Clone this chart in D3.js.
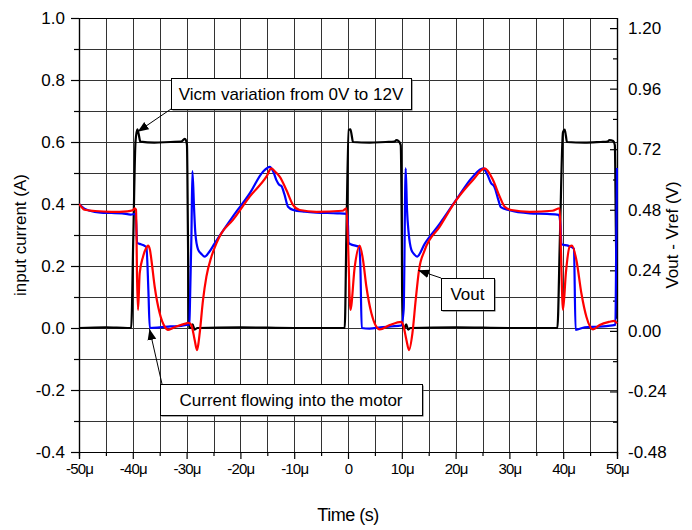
<!DOCTYPE html>
<html><head><meta charset="utf-8">
<script src="https://cdn.jsdelivr.net/npm/d3@7/dist/d3.min.js"></script>
<style>
body{margin:0;background:#fff;}
svg{display:block;font-family:"Liberation Sans",Arial,sans-serif;}
</style>
</head><body>
<svg id="chart" width="692" height="530"></svg>
<script>
// ---- tick labels ----
const timeTicks = [-50,-40,-30,-20,-10,0,10,20,30,40,50];
const timeTickLabels = ["-50μ","-40μ","-30μ","-20μ","-10μ","0","10μ","20μ","30μ","40μ","50μ"];
const leftTicks = [-0.4,-0.2,0.0,0.2,0.4,0.6,0.8,1.0];
const leftTickLabels = ["-0.4","-0.2","0.0","0.2","0.4","0.6","0.8","1.0"];
const rightTicks = [-0.48,-0.24,0.0,0.24,0.48,0.72,0.96,1.20];
const rightTickLabels = ["-0.48","-0.24","0.00","0.24","0.48","0.72","0.96","1.20"];

// ---- series: Vicm (black, left axis) ----
const vicmTime = [-50,-45,-41,-40.3,-39.9,-39.5,-39.15,-38.9,-38.6,-36,-33,-31,-30.35,-30.1,-29.93,-29.75,-29.55,-29.2,-28.9,-28.5,-28,-20,-10,-0.61,-0.3,0.13,0.45,0.7,0.93,4,7,8.6,9.0,9.4,9.8,10.0,10.11,10.5,10.8,11.2,11.6,20,30,38.92,39.4,39.96,40.28,40.5,40.7,44,47,48.2,48.6,49.3,49.6,49.8,50];
const vicmValue = [0,0.002,0,0.0,0.3,0.6,0.641,0.625,0.601,0.598,0.6,0.601,0.61,0.605,0.59,0.3,0.0,0.0,0.012,-0.005,0.0,0.002,0.0,0.0,0.3,0.639,0.641,0.62,0.6,0.598,0.6,0.601,0.606,0.603,0.59,0.3,0.0,0.0,0.012,-0.005,0.0,0.002,0.0,0.0,0.3,0.632,0.64,0.62,0.6,0.598,0.6,0.601,0.606,0.603,0.59,0.3,0.03];

// ---- series: current flowing into the motor (blue, left axis) ----
const currentTime = [-50,-49,-48,-46,-44,-42,-40.4,-39.46,-39.2,-38.5,-37.8,-37.47,-37.1,-36.85,-35,-33,-31,-30,-29.5,-29.4,-29.1,-28.92,-28.6,-28.37,-27.88,-27.2,-26.64,-25.8,-24.78,-21.38,-18.27,-15.8,-14.55,-13.9,-13.31,-12.8,-12.38,-11.8,-11.15,-10.22,-8,-5.87,-2,-0.2,0.0,0.1,0.5,1.5,2.05,2.3,2.55,4,6,8,9.9,10.35,10.72,10.97,11.28,11.78,12.3,12.83,14.3,17,20.1,23.2,25.1,25.9,26.6,27.2,28.0,28.4,30.0,33.8,37,39.2,39.5,39.66,41,42.0,42.3,44,46,48,49.7,49.85,50];
const currentValue = [0.40,0.385,0.378,0.372,0.371,0.37,0.366,0.368,0.275,0.27,0.265,0.26,0.12,0.0,0.002,0.005,0.007,0.01,0.01,0.06,0.3,0.506,0.381,0.305,0.254,0.238,0.23,0.245,0.273,0.36,0.434,0.504,0.52,0.505,0.477,0.462,0.458,0.43,0.391,0.381,0.375,0.372,0.37,0.368,0.33,0.275,0.27,0.265,0.262,0.2,0.0,-0.002,0.002,0.005,0.008,0.06,0.515,0.381,0.305,0.252,0.238,0.23,0.273,0.335,0.413,0.488,0.515,0.495,0.467,0.456,0.41,0.39,0.38,0.37,0.368,0.365,0.33,0.27,0.265,0.256,-0.006,0.002,0.004,0.006,0.01,0.25,0.516];

// ---- series: Vout - Vref (red, right axis) ----
const voutTime = [-50,-49.5,-49,-47,-44,-41,-40.0,-39.65,-39.4,-39.2,-39.03,-38.72,-38.1,-37.47,-37.17,-36.8,-36.54,-35.93,-35.0,-34.07,-33.46,-32.7,-31.9,-30.04,-29.6,-29.11,-28.5,-28.07,-27.8,-27.57,-26.95,-26.32,-25.39,-24.46,-23.53,-21.38,-18.27,-15.17,-14.24,-13.5,-12.7,-11.45,-10.22,-8.98,-5.87,-1,-0.3,0.0,0.45,1.25,2.17,2.79,3.42,4.35,5.89,7.75,9.93,10.3,10.86,11.34,11.97,12.58,13.2,14.26,17.05,20.15,23.23,25.41,26.95,28.2,29.13,30.37,33.77,38,39.35,39.6,39.96,40.5,41.2,41.64,42.45,43.38,44.31,45.54,46.78,48.6,49.5,50];
const voutValue = [0.503,0.49,0.48,0.475,0.472,0.474,0.478,0.486,0.48,0.2,0.083,0.228,0.294,0.33,0.338,0.32,0.281,0.175,0.07,0.017,0.004,0.01,0.017,0.03,0.032,0.023,-0.036,-0.076,-0.05,-0.01,0.122,0.215,0.294,0.347,0.387,0.44,0.532,0.611,0.644,0.63,0.611,0.558,0.499,0.479,0.472,0.476,0.486,0.35,0.083,0.254,0.338,0.281,0.175,0.07,0.006,0.023,0.036,0.02,-0.036,-0.076,-0.01,0.122,0.241,0.32,0.413,0.519,0.598,0.644,0.598,0.532,0.492,0.479,0.472,0.476,0.486,0.3,0.083,0.23,0.334,0.338,0.281,0.149,0.056,0.006,0.023,0.036,0.04,0.03];

// ---- layout ----
const W = 692, H = 530;
const plot = {left: 79, right: 617, top: 18, bottom: 452};
const svg = d3.select("#chart");

const x = d3.scaleLinear().domain([-50, 50]).range([plot.left, plot.right]);
const yL = d3.scaleLinear().domain([-0.4, 1.0]).range([plot.bottom, plot.top]);
const yR = d3.scaleLinear().domain([-0.48, 1.24]).range([plot.bottom, plot.top]);

// grid
const gridColor = "#333";
const g = svg.append("g");
g.selectAll("line.vg").data(d3.range(-45, 50, 5)).enter().append("line")
  .attr("x1", d => Math.round(x(d)) + 0.5).attr("x2", d => Math.round(x(d)) + 0.5)
  .attr("y1", plot.top).attr("y2", plot.bottom)
  .attr("stroke", gridColor).attr("stroke-width", 1);
g.selectAll("line.hg").data(d3.range(-3, 11, 1).map(d => d / 10)).enter().append("line")
  .attr("y1", d => Math.round(yL(d)) + 0.5).attr("y2", d => Math.round(yL(d)) + 0.5)
  .attr("x1", plot.left).attr("x2", plot.right)
  .attr("stroke", gridColor).attr("stroke-width", 1);

// axes
const axL = d3.axisLeft(yL).tickValues(leftTicks).tickSize(8)
  .tickFormat((d, i) => leftTickLabels[i]);
const axLm = d3.axisLeft(yL).tickValues(d3.range(-3, 10, 2).map(d => d / 10)).tickSize(5).tickFormat("");
const axR = d3.axisRight(yR).tickValues(rightTicks).tickSize(-7)
  .tickFormat((d, i) => rightTickLabels[i]);
const axRm = d3.axisRight(yR).tickValues([-0.36,-0.12,0.12,0.36,0.60,0.84,1.08]).tickSize(-4).tickFormat("");
const axB = d3.axisBottom(x).tickValues(timeTicks).tickSize(7)
  .tickFormat((d, i) => timeTickLabels[i]);
const axBm = d3.axisBottom(x).tickValues(d3.range(-45, 50, 10)).tickSize(4).tickFormat("");

function styleAxis(sel, fs) {
  sel.select(".domain").attr("stroke", "#000").attr("stroke-width", 1.2);
  sel.selectAll(".tick line").attr("stroke", "#000").attr("stroke-width", 1.2);
  sel.selectAll(".tick text").attr("fill", "#000").attr("font-size", fs)
    .attr("font-family", '"Liberation Sans", Arial, sans-serif');
}
const gl = svg.append("g").attr("transform", `translate(${plot.left},0)`).call(axL);
gl.selectAll(".tick text").attr("x", -14);
styleAxis(gl, 17);
styleAxis(svg.append("g").attr("transform", `translate(${plot.left},0)`).call(axLm), 17);
const gr = svg.append("g").attr("transform", `translate(${plot.right},0)`).call(axR);
gr.selectAll(".tick text").attr("x", 11);
styleAxis(gr, 17);
styleAxis(svg.append("g").attr("transform", `translate(${plot.right},0)`).call(axRm), 17);
const gb = svg.append("g").attr("transform", `translate(0,${plot.bottom})`).call(axB);
gb.selectAll(".tick text").attr("y", 11).attr("letter-spacing", -0.8);
styleAxis(gb, 15);
styleAxis(svg.append("g").attr("transform", `translate(0,${plot.bottom})`).call(axBm), 15);
// top frame
svg.append("line").attr("x1", plot.left).attr("x2", plot.right)
  .attr("y1", plot.top + 0.5).attr("y2", plot.top + 0.5).attr("stroke", "#000").attr("stroke-width", 1.2);

// traces
const lineL = d3.line().curve(d3.curveMonotoneX).x(d => x(d[0])).y(d => yL(d[1]));
const lineR = d3.line().curve(d3.curveMonotoneX).x(d => x(d[0])).y(d => yR(d[1]));
const zip = (a, b) => a.map((t, i) => [t, b[i]]);
const clip = svg.append("clipPath").attr("id", "clp").append("rect")
  .attr("x", plot.left).attr("y", plot.top).attr("width", plot.right - plot.left + 1).attr("height", plot.bottom - plot.top);
const traces = svg.append("g").attr("clip-path", "url(#clp)");
traces.append("path").attr("d", lineL(zip(vicmTime, vicmValue)))
  .attr("fill", "none").attr("stroke", "#000").attr("stroke-width", 2.2).attr("stroke-linejoin", "round");
traces.append("path").attr("d", lineL(zip(currentTime, currentValue)))
  .attr("fill", "none").attr("stroke", "#0000ff").attr("stroke-width", 2.2).attr("stroke-linejoin", "round");
traces.append("path").attr("d", lineR(zip(voutTime, voutValue)))
  .attr("fill", "none").attr("stroke", "#ff0000").attr("stroke-width", 2.2).attr("stroke-linejoin", "round");

// axis titles
svg.append("text").attr("x", W / 2 + 2).attr("y", 521).attr("text-anchor", "middle")
  .attr("font-size", 18).attr("letter-spacing", -0.5).text("Time (s)");
svg.append("text").attr("transform", `translate(26,${(plot.top + plot.bottom) / 2}) rotate(-90)`)
  .attr("text-anchor", "middle").attr("font-size", 17).text("input current (A)");
svg.append("text").attr("transform", `translate(678,${(plot.top + plot.bottom) / 2}) rotate(-90)`)
  .attr("text-anchor", "middle").attr("font-size", 17).text("Vout - Vref (V)");

// annotations
const defs = svg.append("defs");
defs.append("marker").attr("id", "arr").attr("viewBox", "0 0 10 10").attr("refX", 10).attr("refY", 5)
  .attr("markerWidth", 11).attr("markerHeight", 11).attr("markerUnits", "userSpaceOnUse").attr("orient", "auto")
  .append("path").attr("d", "M0,1 L10,5 L0,9 Z").attr("fill", "#000");

function callout(bx, by, bw, bh, label, fx, fy, tx, ty) {
  svg.append("line").attr("x1", fx).attr("y1", fy).attr("x2", tx).attr("y2", ty)
    .attr("stroke", "#000").attr("stroke-width", 1).attr("marker-end", "url(#arr)");
  svg.append("rect").attr("x", bx + 1.5).attr("y", by + 1.5).attr("width", bw).attr("height", bh).attr("fill", "#555");
  svg.append("rect").attr("x", bx + 0.5).attr("y", by + 0.5).attr("width", bw).attr("height", bh)
    .attr("fill", "#fff").attr("stroke", "#000").attr("stroke-width", 1);
  svg.append("text").attr("x", bx + bw / 2).attr("y", by + bh / 2 + 6).attr("text-anchor", "middle")
    .attr("font-size", 17).text(label);
}
callout(171, 78, 240, 31, "Vicm variation from 0V to 12V", 171, 109, x(-39.1), yL(0.633));
callout(441, 278, 53, 32, "Vout", 441, 278, x(13.05), yR(0.24));
callout(160, 384, 262, 31, "Current flowing into the motor", 162, 384, x(-36.9), yL(-0.003));
</script>
</body></html>
